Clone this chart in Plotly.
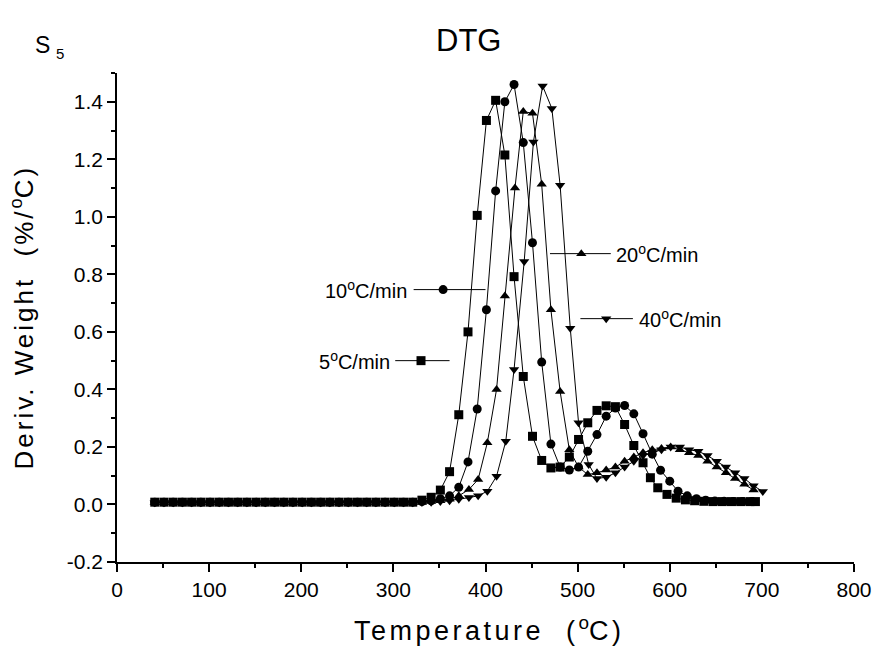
import plotly.graph_objects as go

# ---------------- data ----------------
base_T = [41, 51, 61, 71, 81, 91, 101, 111, 121, 131, 141, 151, 161, 171, 181, 191,
          201, 211, 221, 231, 241, 251, 261, 271, 281, 291, 301, 311, 321]

t5 = base_T + [331, 341, 351, 361, 371, 381, 391, 401, 411, 421, 431, 441, 451, 461, 471,
               481, 491, 501, 511, 521, 531, 541, 551, 561, 571, 579, 587, 597, 607, 617,
               627, 637, 647, 657, 667, 677, 687, 693]
y5 = [0.008] * 29 + [0.015, 0.025, 0.05, 0.114, 0.312, 0.60, 1.005, 1.335, 1.405, 1.215,
                     0.792, 0.445, 0.237, 0.153, 0.127, 0.130, 0.165, 0.226, 0.284, 0.327,
                     0.343, 0.340, 0.278, 0.205, 0.145, 0.093, 0.058, 0.035, 0.022, 0.016,
                     0.013, 0.011, 0.010, 0.010, 0.010, 0.010, 0.010, 0.010]

t10 = base_T + [331, 341, 351, 361, 371, 381, 391, 401, 411, 421, 431, 441, 451, 461, 471,
                481, 491, 501, 511, 521, 531, 541, 551, 561, 571, 581, 590, 600, 609, 619,
                629, 639, 649, 659, 669, 679, 689]
y10 = [0.008] * 29 + [0.010, 0.013, 0.02, 0.03, 0.06, 0.148, 0.332, 0.677, 1.09, 1.40,
                      1.46, 1.258, 0.91, 0.495, 0.21, 0.13, 0.12, 0.13, 0.185, 0.243,
                      0.307, 0.335, 0.344, 0.315, 0.246, 0.175, 0.119, 0.081, 0.046, 0.030,
                      0.020, 0.015, 0.012, 0.011, 0.010, 0.010, 0.010]

t20 = base_T + [331, 341, 351, 361, 371, 382, 392, 402, 412, 421, 432, 441, 451, 461, 471,
                481, 491, 501, 511, 521, 531, 541, 551, 561, 571, 581, 591, 601, 611, 621,
                631, 641, 651, 661, 671, 681, 691]
y20 = [0.007] * 29 + [0.008, 0.010, 0.013, 0.018, 0.03, 0.052, 0.087, 0.215, 0.40, 0.725,
                      1.10, 1.366, 1.36, 1.113, 0.677, 0.393, 0.19, 0.13, 0.104, 0.11,
                      0.12, 0.13, 0.15, 0.165, 0.18, 0.19, 0.195, 0.20, 0.19, 0.18,
                      0.17, 0.15, 0.13, 0.11, 0.09, 0.07, 0.05]

t40 = base_T + [331, 341, 351, 361, 371, 382, 392, 402, 412, 422, 431, 442, 452, 462, 472,
                481, 492, 501, 512, 521, 531, 541, 551, 561, 571, 581, 591, 601, 611, 621,
                631, 641, 651, 661, 671, 681, 691, 701]
y40 = [0.006] * 29 + [0.007, 0.008, 0.010, 0.013, 0.018, 0.024, 0.03, 0.046, 0.098, 0.22,
                      0.469, 0.845, 1.26, 1.455, 1.377, 1.11, 0.613, 0.284, 0.139, 0.09,
                      0.095, 0.11, 0.13, 0.15, 0.17, 0.18, 0.19, 0.20, 0.20, 0.19,
                      0.185, 0.17, 0.15, 0.13, 0.11, 0.09, 0.065, 0.045]

series = [
    ("5°C/min", t5, y5, "square"),
    ("10°C/min", t10, y10, "circle"),
    ("20°C/min", t20, y20, "triangle-up"),
    ("40°C/min", t40, y40, "triangle-down"),
]

x_ticks = [0, 100, 200, 300, 400, 500, 600, 700, 800]
y_ticks = [-0.2, 0.0, 0.2, 0.4, 0.6, 0.8, 1.0, 1.2, 1.4]

# ---------------- inline legend keys (layout, not data) ----------------
keys = {
    "10°C/min": dict(line=(322, 400), mark=354, y=0.747, text_x=317, anchor="right"),
    "5°C/min": dict(line=(302, 361), mark=330, y=0.50, text_x=298, anchor="right"),
    "20°C/min": dict(line=(470, 536), mark=504, y=0.872, text_x=540, anchor="left"),
    "40°C/min": dict(line=(503, 560), mark=531, y=0.646, text_x=564, anchor="left"),
}

FONT = "Liberation Sans, Arial, Helvetica, sans-serif"


def spaced(s, px):
    return f'<span style="letter-spacing:{px}px">{s}</span>'


fig = go.Figure()
for name, t, y, sym in series:
    fig.add_trace(go.Scatter(
        x=t, y=y, mode="lines+markers", name=name,
        line=dict(color="black", width=1),
        marker=dict(symbol=sym, size=9, color="black"),
        showlegend=False, cliponaxis=False,
    ))

annotations = []
for name, t, y, sym in series:
    k = keys[name]
    fig.add_trace(go.Scatter(
        x=[k["line"][0], k["line"][1]], y=[k["y"], k["y"]], mode="lines",
        line=dict(color="black", width=1), showlegend=False, hoverinfo="skip"))
    fig.add_trace(go.Scatter(
        x=[k["mark"]], y=[k["y"]], mode="markers",
        marker=dict(symbol=sym, size=9, color="black"), showlegend=False, hoverinfo="skip"))
    label = name.replace("°", "<sup>o</sup>")
    annotations.append(dict(
        x=k["text_x"], y=k["y"], xref="x", yref="y", text=label, showarrow=False,
        xanchor=k["anchor"], yanchor="middle", font=dict(family=FONT, size=20, color="black")))

# title, sample label, axis titles
annotations += [
    dict(x=0.477, y=1.0, xref="paper", yref="paper", yshift=33, text="DTG", showarrow=False,
         xanchor="center", yanchor="middle", font=dict(family=FONT, size=31, color="black")),
    dict(x=-0.101, y=1.0, xref="paper", yref="paper", yshift=28, text="S", showarrow=False,
         xanchor="center", yanchor="middle", font=dict(family=FONT, size=23, color="black")),
    dict(x=-0.078, y=1.0, xref="paper", yref="paper", yshift=20, text="5", showarrow=False,
         xanchor="center", yanchor="middle", font=dict(family=FONT, size=15, color="black")),
    dict(x=0.505, y=0, xref="paper", yref="paper", yshift=-67,
         text=spaced("Temperature  (", 3.5) + "<sup>o</sup>" + spaced("C)", 3.5),
         showarrow=False, xanchor="center",
         yanchor="middle", font=dict(family=FONT, size=27, color="black")),
    dict(x=0, y=0.5, xref="paper", yref="paper", xshift=-94,
         text=spaced("Deriv. Weight  (%/", 3) + "<sup>o</sup>" + spaced("C)", 3),
         showarrow=False, textangle=-90,
         xanchor="center", yanchor="middle", font=dict(family=FONT, size=26, color="black")),
]

axis_common = dict(
    showgrid=False, zeroline=False, showline=True, linecolor="black", linewidth=1.5,
    ticks="outside", tickcolor="black", tickwidth=1.5, ticklen=8,
    tickfont=dict(family=FONT, size=21, color="black"),
)

fig.update_layout(
    width=884, height=657,
    margin=dict(l=117, r=24, t=73, b=95),
    paper_bgcolor="white", plot_bgcolor="white",
    annotations=annotations,
    xaxis=dict(range=[0, 800], tickvals=x_ticks, ticktext=[str(v) for v in x_ticks],
               minor=dict(dtick=50, ticks="outside", ticklen=4, tickcolor="black", tickwidth=1.5),
               **axis_common),
    yaxis=dict(range=[-0.2, 1.5], tickvals=y_ticks, ticktext=[f"{v:.1f}" for v in y_ticks],
               minor=dict(dtick=0.1, ticks="outside", ticklen=4, tickcolor="black", tickwidth=1.5),
               **axis_common),
)

fig.write_html("out.html")
